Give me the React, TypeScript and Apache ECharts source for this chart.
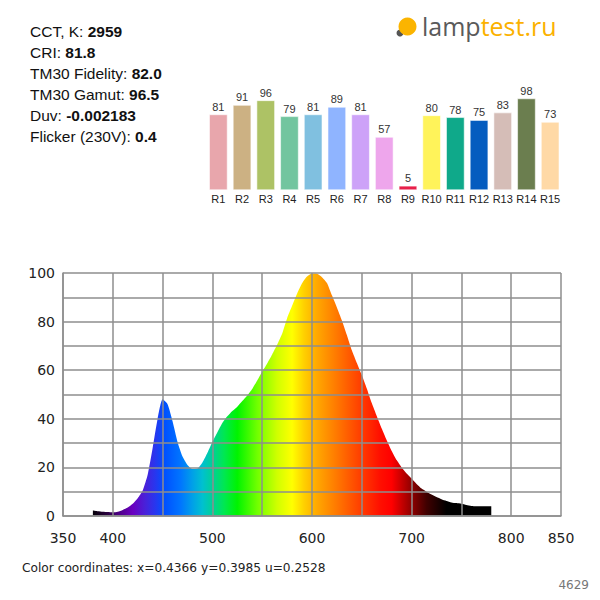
import { useEffect, useRef } from 'react';
import * as echarts from 'echarts';

// Спектр и индексы цветопередачи
const infoLabels = ['CCT, K: ', 'CRI: ', 'TM30 Fidelity: ', 'TM30 Gamut: ', 'Duv: ', 'Flicker (230V): '];
const infoValues = ['2959', '81.8', '82.0', '96.5', '-0.002183', '0.4'];

const rNames = ['R1', 'R2', 'R3', 'R4', 'R5', 'R6', 'R7', 'R8', 'R9', 'R10', 'R11', 'R12', 'R13', 'R14', 'R15'];
const rValues = [81, 91, 96, 79, 81, 89, 81, 57, 5, 80, 78, 75, 83, 98, 73];
const rColors = [
  '#e8a6ac', '#ccb183', '#adc265', '#72c59f', '#80c0e0', '#8fb4ff', '#cda2f8', '#eea6ec',
  '#e8204a', '#fff35a', '#0fa98a', '#055cbf', '#d5bdb7', '#6b7e4f', '#ffd9a6'
];

const wavelengths = [
  380, 385, 390, 395, 400, 405, 410, 415, 420, 425, 430, 435, 440, 445, 450, 455, 460, 465, 470, 475,
  480, 485, 490, 495, 500, 505, 510, 515, 520, 525, 530, 535, 540, 545, 550, 555, 560, 565, 570, 575,
  580, 585, 590, 595, 600, 605, 610, 615, 620, 625, 630, 635, 640, 645, 650, 655, 660, 665, 670, 675,
  680, 685, 690, 695, 700, 705, 710, 715, 720, 725, 730, 735, 740, 745, 750, 755, 760, 765, 770, 775, 780
];
const intensity = [
  2.3, 2.0, 1.8, 1.6, 1.5, 1.8, 2.5, 3.5, 5.0, 7.3, 10.5, 17, 28, 40, 48, 46, 39, 30.5, 24.5, 21,
  19.3, 19.5, 22, 26, 30.5, 34.5, 38.3, 41, 43.2, 45, 47.3, 49.6, 52.3, 55.8, 59.4, 62.8, 66.5, 70.5, 75, 81.4,
  86.5, 91.5, 95.8, 98.6, 99.8, 99.7, 98.3, 95.9, 90.8, 85.8, 80.5, 74.5, 68.2, 63, 58, 52.5, 46.5, 41.2, 36, 31.2,
  26.8, 23, 20, 17.5, 15.4, 13.2, 11.3, 10, 8.8, 7.8, 6.9, 6.2, 5.6, 5.3, 5.0, 4.5, 4.1, 4.0, 4.0, 4.0, 4.0
];

// цвета по длине волны
const spectrumStops: [number, string][] = [
  [380, '#050008'], [395, '#2a0040'], [405, '#4a0080'], [420, '#6a00c0'], [432, '#4a20d8'],
  [442, '#2a35ee'], [452, '#0050ff'], [468, '#0075ff'], [480, '#00a0e8'], [490, '#00c0d0'],
  [500, '#00d098'], [512, '#00e850'], [525, '#00f400'], [545, '#70ff00'], [565, '#d0ff00'],
  [580, '#ffff00'], [592, '#ffd000'], [605, '#ffa800'], [625, '#ff7800'], [648, '#ff4000'],
  [668, '#ff1000'], [680, '#ff0000'], [697, '#a00000'], [715, '#400000'], [735, '#000000'], [780, '#000000']
];

const coordsText = 'Color coordinates: x=0.4366 y=0.3985 u=0.2528';
const idText = '4629';

function App() {
  const chartRef = useRef<HTMLDivElement>(null);

  useEffect(() => {
    if (!chartRef.current) return;
    const chart = echarts.init(chartRef.current, null, { renderer: 'svg' });

    const wMin = wavelengths[0];
    const wMax = wavelengths[wavelengths.length - 1];
    const gradient = new echarts.graphic.LinearGradient(
      0, 0, 1, 0,
      spectrumStops.map(([nm, c]) => ({ offset: (nm - wMin) / (wMax - wMin), color: c }))
    );

    const infoGraphics = infoLabels.map((lbl, i) => ({
      type: 'text',
      x: 30,
      y: 31 + i * 21.1,
      style: {
        text: `{n|${lbl}}{b|${infoValues[i]}}`,
        verticalAlign: 'middle',
        rich: {
          n: { fontFamily: 'Liberation Sans, Arial', fontSize: 15.5, fill: '#111' },
          b: { fontFamily: 'Liberation Sans, Arial', fontSize: 15.5, fontWeight: 'bold', fill: '#111' }
        }
      }
    }));

    const gridLine = { color: '#8e8e8e', width: 1.5 };

    const option = {
      animation: false,
      backgroundColor: '#fff',
      graphic: [
        ...infoGraphics,
        // логотип
        { type: 'circle', shape: { cx: 400, cy: 33, r: 3.5 }, style: { fill: '#555' } },
        { type: 'circle', shape: { cx: 407.5, cy: 26.5, r: 9 }, style: { fill: '#fbb400' } },
        {
          type: 'text',
          x: 422,
          y: 26,
          style: {
            text: '{a|lamp}{b|test.ru}',
            verticalAlign: 'middle',
            rich: {
              a: { fontFamily: 'Open Sans', fontSize: 25, fill: '#5a5a5a' },
              b: { fontFamily: 'Open Sans', fontSize: 25, fill: '#fbb100' }
            }
          }
        },
        {
          type: 'text',
          x: 22,
          y: 568,
          style: { text: coordsText, fontFamily: 'DejaVu Sans', fontSize: 12.2, fill: '#222', verticalAlign: 'middle' }
        },
        {
          type: 'text',
          x: 589,
          y: 585,
          style: { text: idText, fontFamily: 'DejaVu Sans', fontSize: 12, fill: '#777', align: 'right', verticalAlign: 'middle' }
        }
      ],
      grid: [
        { left: 63, right: 39, top: 273, bottom: 84 },
        { left: 206.5, right: 38, top: 96.4, bottom: 409.7 }
      ],
      xAxis: [
        {
          type: 'value',
          gridIndex: 0,
          min: 350,
          max: 850,
          interval: 50,
          z: 5,
          axisLine: { show: true, lineStyle: gridLine },
          axisTick: { show: false },
          splitLine: { show: true, lineStyle: gridLine },
          axisLabel: {
            margin: 15,
            fontFamily: 'DejaVu Sans',
            fontSize: 14,
            color: '#222',
            showMinLabel: true,
            showMaxLabel: true,
            formatter: (v: number) => (v === 350 || v === 850 || v % 100 === 0 ? String(v) : '')
          }
        },
        {
          type: 'category',
          gridIndex: 1,
          data: rNames,
          axisLine: { show: false },
          axisTick: { show: false },
          axisLabel: { margin: 3, fontFamily: 'Liberation Sans, Arial', fontSize: 11, color: '#222', interval: 0 }
        }
      ],
      yAxis: [
        {
          type: 'value',
          gridIndex: 0,
          min: 0,
          max: 100,
          interval: 10,
          z: 5,
          axisLine: { show: true, lineStyle: gridLine },
          axisTick: { show: false },
          splitLine: { show: true, lineStyle: gridLine },
          axisLabel: {
            margin: 8,
            fontFamily: 'DejaVu Sans',
            fontSize: 14,
            color: '#222',
            formatter: (v: number) => (v % 20 === 0 ? String(v) : '')
          }
        },
        { type: 'value', gridIndex: 1, min: 0, max: 100, show: false }
      ],
      series: [
        {
          type: 'line',
          xAxisIndex: 0,
          yAxisIndex: 0,
          data: wavelengths.map((w, i) => [w, intensity[i]]),
          showSymbol: false,
          smooth: 0.2,
          lineStyle: { width: 0 },
          areaStyle: { color: gradient, opacity: 1 },
          z: 1
        },
        {
          type: 'bar',
          xAxisIndex: 1,
          yAxisIndex: 1,
          barCategoryGap: '21%',
          data: rValues.map((v, i) => ({
            value: v,
            itemStyle: { color: rColors[i], borderColor: 'rgba(255,255,255,0.55)', borderWidth: 1 }
          })),
          label: {
            show: true,
            position: 'top',
            distance: 2,
            fontFamily: 'Liberation Sans, Arial',
            fontSize: 11,
            color: '#333'
          }
        }
      ]
    };

    chart.setOption(option as any);
    return () => chart.dispose();
  }, []);

  return (
    <div
      ref={chartRef}
      style={{ position: 'fixed', left: 0, top: 0, width: '600px', height: '600px', background: '#fff' }}
    />
  );
}

export default App;
